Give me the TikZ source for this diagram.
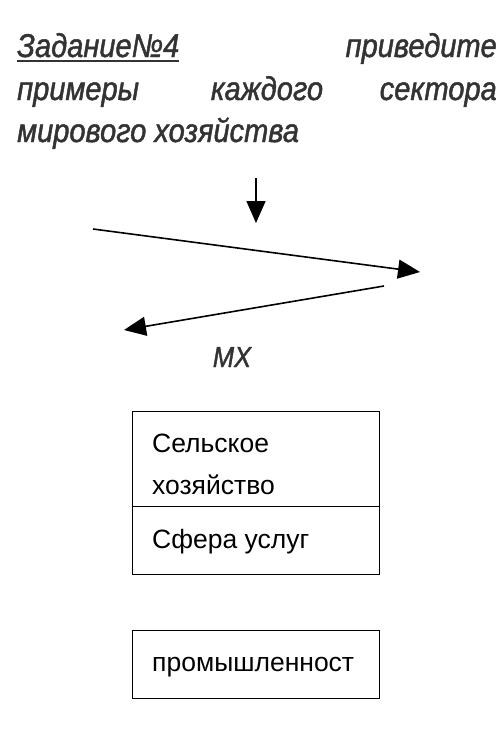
\documentclass[tikz,border=0pt]{standalone}
\usepackage{fontspec}
\setmainfont{Liberation Sans}
\newfontfamily\headfont[FakeStretch=0.88,FakeBold=1.4]{Liberation Sans}
\usepackage{tikz}
\usetikzlibrary{arrows.meta,positioning}

\definecolor{inkgray}{HTML}{333333}

\begin{document}
\begin{tikzpicture}[x=1pt,y=-1pt,
  every node/.style={inner sep=0pt},
  title/.style={font=\headfont\fontsize{33}{33}\selectfont\itshape,text=inkgray},
  sector/.style={draw,line width=1.4pt,minimum width=247pt,anchor=north west},
  sectortext/.style={anchor=base west,font=\fontsize{26.5}{26.5}\selectfont,text=black},
  flow/.style={line width=1.6pt,-{Triangle[length=22pt,width=19pt]}}]

\useasboundingbox (0,0) rectangle (500,740);

% Title lines
\node[title,anchor=base west] (t1) at (17,57) {Задание№4};
\draw[line width=1.8pt,inkgray] ([yshift=-4pt]t1.base west) -- ([yshift=-4pt]t1.base east);
\node[title,anchor=base east] (t2) at (497,57) {приведите};
\node[title,anchor=base west] (t3) at (17,100) {примеры};
\node[title,anchor=base] (t4) at (267,100) {каждого};
\node[title,anchor=base east] (t5) at (497,100) {сектора};
\node[title,anchor=base west] (t6) at (17,142) {мирового хозяйства};

% Arrows
\coordinate (a1) at (256,178);
\coordinate (a2) at (256,223);
\coordinate (b1) at (93,229);
\coordinate (b2) at (420,272);
\coordinate (c1) at (384,286);
\coordinate (c2) at (124,330);
\draw[flow] (a1) -- (a2);
\draw[flow] (b1) -- (b2);
\draw[flow] (c1) -- (c2);

\node[title,font=\headfont\fontsize{29}{29}\selectfont\itshape,anchor=base] (mx) at (232,367) {МХ};

% Sector boxes
\node[sector,minimum height=95pt] (agri) at (132,411) {};
\node[sectortext] (agri1) at (152,452) {Сельское};
\node[sectortext] (agri2) at (152,494) {хозяйство};

\node[sector,minimum height=68pt] (serv) at (132,506) {};
\node[sectortext] (serv1) at (152,548) {Сфера услуг};

\node[sector,minimum height=68pt] (ind) at (132,630) {};
\node[sectortext] (ind1) at (152,671) {промышленност};

\end{tikzpicture}
\end{document}
